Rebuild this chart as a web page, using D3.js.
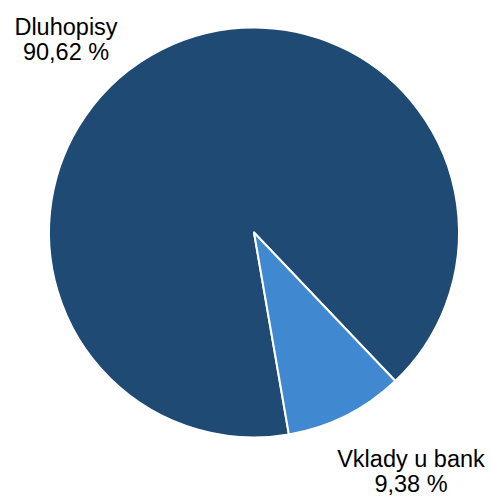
<!DOCTYPE html>
<html>
<head>
<meta charset="utf-8">
<script src="https://cdn.jsdelivr.net/npm/d3@7"></script>
<style>
  html, body { margin: 0; padding: 0; background: #fff; }
  #chart { width: 492px; height: 496px; }
  text { font-family: "Liberation Sans", Arial, sans-serif; fill: #000; }
</style>
</head>
<body>
<div id="chart"></div>
<script>
//Datos
const categories = ['Dluhopisy', 'Vklady u bank'];
const values = [90.62, 9.38];
const valueLabels = ['90,62 %', '9,38 %'];

//Colores fijos
const COLOR_DARK = '#1f4a74',
COLOR_LIGHT = '#4088cf';

let width = 492, height = 496;
let cx = 254, cy = 232.5, radius = 205;

let svg = d3.select('#chart')
    .append('svg')
        .attr('width', width)
        .attr('height', height);

let g = svg.append('g')
    .attr('transform', 'translate(' + cx + ',' + cy + ')');

let color = d3.scaleOrdinal()
    .domain(categories)
    .range([COLOR_DARK, COLOR_LIGHT]);

//Excel empieza el primer sector girado
let start = 170.2 * Math.PI / 180;

let pie = d3.pie()
    .value(function(d) { return d.value; })
    .sort(null)
    .startAngle(start)
    .endAngle(start + 2 * Math.PI);

let data = categories.map(function(c, i) { return {key: c, value: values[i], label: valueLabels[i]}; });

let arc = d3.arc()
    .innerRadius(0)
    .outerRadius(radius);

g.selectAll('path')
    .data(pie(data))
    .enter()
    .append('path')
    .attr('d', arc)
    .attr('fill', function(d) { return color(d.data.key); })
    .attr('stroke', '#fff')
    .attr('stroke-width', 2)
    .attr('stroke-linejoin', 'round');

//Etiquetas (posición relativa al centro)
let labelPos = [[-188, -198], [157, 234]];

let labels = g.selectAll('.label')
    .data(pie(data))
    .enter()
    .append('text')
    .attr('class', 'label')
    .attr('text-anchor', 'middle')
    .attr('font-size', '23.5px')
    .attr('transform', function(d, i) { return 'translate(' + labelPos[i][0] + ',' + labelPos[i][1] + ')'; });

labels.append('tspan')
    .attr('x', 0)
    .attr('y', 0)
    .text(function(d) { return d.data.key; });

labels.append('tspan')
    .attr('x', 0)
    .attr('y', 25.5)
    .text(function(d) { return d.data.label; });
</script>
</body>
</html>
